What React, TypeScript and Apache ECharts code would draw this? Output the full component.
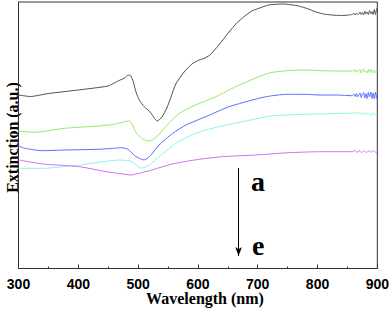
import React, { useEffect, useRef } from "react";
import * as echarts from "echarts";

// Wavelength (nm) and extinction (a.u.) for each spectrum a–e
const wlA = [300, 320, 350, 400, 450, 460, 470, 478, 483, 488, 492, 497, 502, 510, 520, 532, 540, 548, 555, 563, 577, 590, 602, 610, 620, 635, 652, 665, 677, 690, 702, 718, 743, 768, 785, 796, 810, 824, 840, 852, 858, 861, 863, 865, 867, 869, 871, 873, 875, 877, 879, 881, 883, 885, 887, 889, 891, 893, 895, 897, 899, 900];
const extA = [1.735, 1.72, 1.75, 1.785, 1.825, 1.855, 1.885, 1.905, 1.935, 1.925, 1.865, 1.755, 1.685, 1.62, 1.565, 1.475, 1.515, 1.605, 1.715, 1.845, 1.965, 2.045, 2.085, 2.1, 2.135, 2.235, 2.365, 2.455, 2.518, 2.575, 2.602, 2.635, 2.645, 2.625, 2.595, 2.568, 2.545, 2.535, 2.53, 2.535, 2.54, 2.55, 2.535, 2.555, 2.54, 2.545, 2.565, 2.54, 2.56, 2.535, 2.575, 2.545, 2.565, 2.54, 2.58, 2.545, 2.57, 2.54, 2.59, 2.54, 2.6, 2.565];

const wlB = [300, 327, 377, 433, 460, 477, 485, 490, 497, 508, 519, 530, 546, 569, 596, 630, 663, 702, 721, 749, 777, 805, 832, 858, 861, 863, 865, 867, 869, 871, 873, 875, 877, 879, 881, 883, 885, 887, 889, 891, 893, 895, 897, 899, 900];
const extB = [1.375, 1.362, 1.402, 1.425, 1.442, 1.468, 1.475, 1.445, 1.352, 1.292, 1.275, 1.312, 1.418, 1.552, 1.635, 1.718, 1.818, 1.918, 1.958, 1.978, 1.985, 1.978, 1.975, 1.975, 1.99, 1.965, 1.985, 1.96, 1.975, 1.99, 1.955, 1.98, 1.995, 1.965, 1.975, 1.955, 1.99, 1.96, 1.995, 1.97, 1.955, 1.985, 1.96, 1.98, 1.97];

const wlC = [300, 311, 339, 377, 433, 460, 472, 483, 494, 502, 510, 519, 535, 558, 580, 613, 652, 702, 721, 749, 777, 805, 832, 858, 861, 863, 865, 867, 869, 871, 873, 875, 877, 879, 881, 883, 885, 887, 889, 891, 893, 895, 897, 899, 900];
const extC = [1.225, 1.202, 1.178, 1.185, 1.192, 1.202, 1.208, 1.192, 1.13, 1.102, 1.085, 1.118, 1.235, 1.352, 1.435, 1.518, 1.618, 1.702, 1.725, 1.742, 1.742, 1.735, 1.735, 1.728, 1.745, 1.72, 1.75, 1.715, 1.74, 1.755, 1.71, 1.745, 1.76, 1.705, 1.75, 1.7, 1.76, 1.715, 1.765, 1.7, 1.755, 1.695, 1.765, 1.7, 1.745];

const wlD = [300, 341, 402, 469, 480, 490, 497, 505, 519, 535, 563, 596, 635, 702, 721, 749, 777, 805, 832, 858, 862, 865, 868, 871, 874, 877, 880, 883, 886, 889, 892, 895, 898, 900];
const extD = [1.002, 1.002, 1.035, 1.085, 1.08, 1.07, 1.035, 1.002, 1.035, 1.118, 1.252, 1.352, 1.418, 1.502, 1.525, 1.535, 1.542, 1.545, 1.552, 1.552, 1.56, 1.545, 1.565, 1.54, 1.56, 1.535, 1.565, 1.54, 1.555, 1.53, 1.555, 1.535, 1.55, 1.545];

const wlE = [300, 341, 402, 447, 475, 488, 500, 519, 557, 602, 641, 696, 752, 807, 858, 862, 866, 870, 874, 878, 882, 886, 890, 894, 898, 900];
const extE = [1.085, 1.045, 1.018, 0.968, 0.945, 0.935, 0.95, 0.978, 1.045, 1.092, 1.118, 1.135, 1.158, 1.168, 1.168, 1.178, 1.162, 1.176, 1.16, 1.18, 1.158, 1.178, 1.162, 1.182, 1.156, 1.175];

const seriesNames = ["a", "b", "c", "d", "e"];
const seriesColors = ["#505050", "#92ea62", "#5a6cff", "#85f5ea", "#d070f0"];
const xTicks = [300, 400, 500, 600, 700, 800, 900];

const pairs = (xs: number[], ys: number[]) => xs.map((x, i) => [x, ys[i]]);

export default function App() {
  const ref = useRef<HTMLDivElement>(null);
  useEffect(() => {
    if (!ref.current) return;
    const chart = echarts.init(ref.current, undefined, { renderer: "svg" });
    const all = [pairs(wlA, extA), pairs(wlB, extB), pairs(wlC, extC), pairs(wlD, extD), pairs(wlE, extE)];
    const axisColor = "#333";
    chart.setOption({
      animation: false,
      backgroundColor: "#fff",
      grid: { left: 18.5, right: 13, top: 2, bottom: 42.5, show: true, borderColor: axisColor, borderWidth: 1 },
      xAxis: {
        type: "value",
        min: xTicks[0],
        max: xTicks[xTicks.length - 1],
        interval: 100,
        axisLine: { show: true, lineStyle: { color: axisColor, width: 1 } },
        axisTick: { show: true, inside: true, length: 4, lineStyle: { color: axisColor } },
        minorTick: { show: true, splitNumber: 2, length: 2, lineStyle: { color: axisColor } },
        splitLine: { show: false },
        axisLabel: {
          margin: 8,
          color: "#000",
          fontFamily: "Liberation Sans, Arial, sans-serif",
          fontWeight: "bold",
          fontSize: 14,
        },
      },
      yAxis: {
        type: "value",
        min: 0,
        max: 2.665,
        axisLine: { show: true, lineStyle: { color: axisColor, width: 1 } },
        axisTick: { show: false },
        axisLabel: { show: false },
        splitLine: { show: false },
      },
      series: all.map((d, i) => ({
        name: seriesNames[i],
        type: "line",
        data: d,
        symbol: "none",
        smooth: 0.2,
        lineStyle: { color: seriesColors[i], width: 1 },
        silent: true,
        markLine:
          i === 0
            ? {
                silent: true,
                symbol: ["none", "arrow"],
                symbolSize: [5, 9],
                label: { show: false },
                lineStyle: { color: "#000", width: 1, type: "solid" },
                data: [[{ coord: [668, 1.005] }, { coord: [668, 0.125] }]],
              }
            : undefined,
      })),
      graphic: [
        {
          type: "text",
          x: 205,
          y: 298.6,
          style: {
            text: "Wavelength (nm)",
            fontFamily: "Liberation Serif, Times New Roman, serif",
            fontWeight: "bold",
            fontSize: 16,
            fill: "#000",
            align: "center",
            verticalAlign: "middle",
          },
        },
        {
          type: "text",
          x: 12.5,
          y: 137.5,
          rotation: Math.PI / 2,
          style: {
            text: "Extinction (a.u.)",
            fontFamily: "Liberation Serif, Times New Roman, serif",
            fontWeight: "bold",
            fontSize: 16,
            fill: "#000",
            align: "center",
            verticalAlign: "middle",
          },
        },
        {
          type: "text",
          x: 251,
          y: 181,
          style: {
            text: "a",
            fontFamily: "Liberation Serif, Times New Roman, serif",
            fontWeight: "bold",
            fontSize: 28,
            fill: "#000",
            align: "left",
            verticalAlign: "middle",
          },
        },
        {
          type: "text",
          x: 252,
          y: 245,
          style: {
            text: "e",
            fontFamily: "Liberation Serif, Times New Roman, serif",
            fontWeight: "bold",
            fontSize: 28,
            fill: "#000",
            align: "left",
            verticalAlign: "middle",
          },
        },
      ],
    });
    return () => chart.dispose();
  }, []);
  return (
    <div
      ref={ref}
      style={{ position: "fixed", left: 0, top: 0, width: 392, height: 311, background: "#fff" }}
    />
  );
}
